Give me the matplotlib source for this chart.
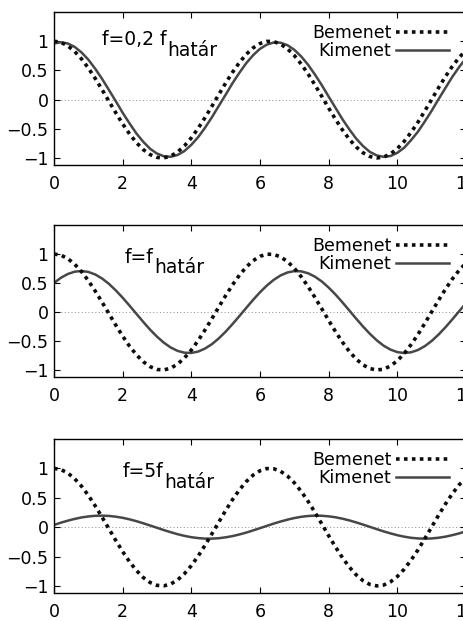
#%% imports

import numpy as np
import matplotlib.pyplot as plt


t = np.linspace(0, 12, 61)

bemenet = [1.000, 0.980, 0.921, 0.825, 0.697, 0.540, 0.362, 0.170, -0.029, -0.227,
           -0.416, -0.589, -0.737, -0.857, -0.942, -0.990, -0.998, -0.967, -0.897, -0.791,
           -0.654, -0.490, -0.307, -0.112, 0.087, 0.284, 0.469, 0.635, 0.776, 0.886,
           0.960, 0.997, 0.993, 0.950, 0.869, 0.754, 0.608, 0.439, 0.251, 0.054,
           -0.146, -0.339, -0.519, -0.679, -0.811, -0.911, -0.975, -0.999, -0.985, -0.930,
           -0.839, -0.714, -0.560, -0.387, -0.194, 0.004, 0.203, 0.394, 0.569, 0.721,
           0.844]

kimenet_02 = [0.962, 0.981, 0.961, 0.903, 0.808, 0.684, 0.528, 0.355, 0.164, -0.028,
              -0.226, -0.408, -0.580, -0.723, -0.843, -0.924, -0.971, -0.979, -0.948, -0.880,
              -0.774, -0.642, -0.480, -0.301, -0.107, 0.085, 0.282, 0.460, 0.625, 0.761,
              0.870, 0.942, 0.978, 0.974, 0.931, 0.852, 0.738, 0.596, 0.428, 0.246,
              0.050, -0.143, -0.336, -0.509, -0.668, -0.796, -0.896, -0.956, -0.981, -0.966,
              -0.911, -0.823, -0.694, -0.549, -0.374, -0.190, 0.008, 0.199, 0.389, 0.558,
              0.708]

kimenet_1 = [0.500, 0.590, 0.655, 0.695, 0.707, 0.691, 0.647, 0.578, 0.485, 0.373,
             0.246, 0.110, -0.031, -0.171, -0.305, -0.425, -0.529, -0.612, -0.670, -0.701,
             -0.705, -0.681, -0.629, -0.553, -0.454, -0.338, -0.207, -0.069, 0.072, 0.211,
             0.341, 0.457, 0.555, 0.631, 0.682, 0.705, 0.701, 0.668, 0.609, 0.526,
             0.421, 0.300, 0.167, 0.027, -0.114, -0.250, -0.376, -0.488, -0.580, -0.648,
             -0.691, -0.707, -0.694, -0.654, -0.588, -0.498, -0.388, -0.263, -0.127, 0.014,
             0.154]

kimenet_5 = [0.038, 0.076, 0.110, 0.140, 0.165, 0.182, 0.193, 0.196, 0.191, 0.178,
             0.159, 0.133, 0.102, 0.066, 0.028, -0.011, -0.050, -0.086, -0.120, -0.148,
             -0.171, -0.186, -0.195, -0.195, -0.188, -0.173, -0.152, -0.124, -0.092, -0.055,
             -0.017, 0.022, 0.061, 0.096, 0.128, 0.155, 0.176, 0.190, 0.196, 0.194,
             0.184, 0.168, 0.144, 0.115, 0.081, 0.044, 0.005, -0.034, -0.072, -0.106,
             -0.137, -0.162, -0.181, -0.192, -0.196, -0.192, -0.180, -0.162, -0.136, -0.106,
             -0.070]

outputs = [kimenet_02, kimenet_1, kimenet_5]
titles = [("f=0,2 f", "határ"), ("f=f", "határ"), ("f=5f", "határ")]
title_pos = [(1.4, 0.93), (2.06, 0.85), (2.0, 0.85)]

xticks = [0, 2, 4, 6, 8, 10, 12]
yticks = [-1, -0.5, 0, 0.5, 1]
ytick_labels = ['\u22121', '\u22120.5', '0', '0.5', '1']

#%% layout

fig = plt.figure(figsize=(4.64, 6.21), dpi=100)

# [left, bottom, width, height]; right edge runs up to the image border
positions = [[0.1164, 0.7343, 0.888, 0.2464],
             [0.1164, 0.3929, 0.888, 0.2448],
             [0.1164, 0.0451, 0.888, 0.2480]]

for pos, y_out, (main, sub), (tx, ty) in zip(positions, outputs, titles, title_pos):
    ax = fig.add_axes(pos)

    ax.axhline(0, color='0.55', lw=0.7, ls=(0, (1, 2.5)), zorder=1)
    ax.plot(t, bemenet, color='0.05', lw=2.6, ls=(0, (1.0, 1.2)),
            label='Bemenet', zorder=3)
    ax.plot(t, y_out, color='0.28', lw=1.8, label='Kimenet', zorder=2)

    ax.set_xlim(0, 12)
    ax.set_ylim(-1.12, 1.5)
    ax.set_xticks(xticks)
    ax.set_yticks(yticks)
    ax.set_yticklabels(ytick_labels)
    ax.tick_params(direction='in', top=True, right=True, length=4,
                   width=0.8, labelsize=12.5)
    ax.tick_params(axis='x', pad=7)
    ax.tick_params(axis='y', pad=4)
    for s in ax.spines.values():
        s.set_linewidth(1.0)

    txt = ax.text(tx, ty, main, fontsize=13.5, ha='left', va='baseline')
    ax.annotate(sub, xy=(1, 0), xycoords=txt, xytext=(0.5, -7.5),
                textcoords='offset points', fontsize=13.5,
                ha='left', va='bottom')

    ax.legend(loc='upper right', frameon=False, markerfirst=False,
              fontsize=12.5, handlelength=3.0, handletextpad=0.3,
              labelspacing=0.0, borderaxespad=0.3, bbox_to_anchor=(0.987, 1.0))

fig.savefig('out.png', dpi=100)
